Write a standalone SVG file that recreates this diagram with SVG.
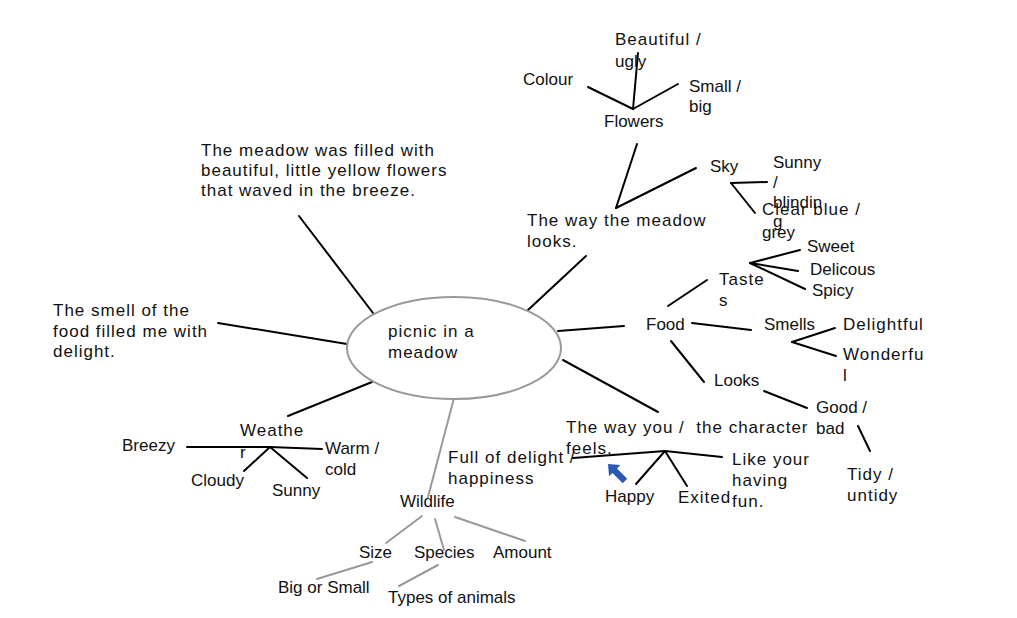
<svg xmlns="http://www.w3.org/2000/svg" width="1017" height="618" viewBox="0 0 1017 618">
<style>
text{font-family:"Liberation Sans",Arial,sans-serif;font-size:17px;fill:#111}
.sp{letter-spacing:1px}
.k{stroke:#000;stroke-width:2;fill:none;stroke-linecap:round}
.g{stroke:#999;stroke-width:2;fill:none;stroke-linecap:round}
</style>
<rect width="1017" height="618" fill="#fff"/>
<g id="connectors">
<line class="k" x1="373" y1="313" x2="299" y2="216"/>
<line class="k" x1="347" y1="344" x2="218" y2="323"/>
<line class="k" x1="372" y1="382" x2="288" y2="416"/>
<line class="g" x1="454" y1="398" x2="428" y2="497"/>
<line class="k" x1="563" y1="360" x2="658" y2="412"/>
<line class="k" x1="558" y1="331" x2="624" y2="326"/>
<line class="k" x1="528" y1="310" x2="586" y2="256"/>
<line class="k" x1="637" y1="144" x2="616" y2="208"/>
<line class="k" x1="696" y1="168" x2="616" y2="208"/>
<line class="k" x1="588" y1="87" x2="633" y2="109"/>
<line class="k" x1="678" y1="84" x2="633" y2="109"/>
<line class="k" x1="638" y1="53" x2="633" y2="109"/>
<line class="k" x1="731" y1="183" x2="767" y2="182"/>
<line class="k" x1="731" y1="183" x2="755" y2="213"/>
<line class="k" x1="668" y1="306" x2="707" y2="280"/>
<line class="k" x1="750" y1="263" x2="800" y2="250"/>
<line class="k" x1="750" y1="263" x2="798" y2="271"/>
<line class="k" x1="750" y1="263" x2="805" y2="289"/>
<line class="k" x1="692" y1="323" x2="751" y2="330"/>
<line class="k" x1="792" y1="342" x2="835" y2="328"/>
<line class="k" x1="792" y1="342" x2="836" y2="356"/>
<line class="k" x1="671" y1="341" x2="704" y2="382"/>
<line class="k" x1="764" y1="391" x2="807" y2="408"/>
<line class="k" x1="858" y1="426" x2="870" y2="451"/>
<polyline class="k" points="573,458 665,451 722,457"/>
<line class="k" x1="665" y1="451" x2="636" y2="484"/>
<line class="k" x1="665" y1="451" x2="687" y2="486"/>
<polyline class="k" points="187,447 270,447 322,449"/>
<line class="k" x1="270" y1="447" x2="244" y2="471"/>
<line class="k" x1="270" y1="447" x2="307" y2="478"/>
<line class="g" x1="422" y1="516" x2="386" y2="543"/>
<line class="g" x1="435" y1="519" x2="444" y2="550"/>
<line class="g" x1="455" y1="517" x2="525" y2="541"/>
<line class="g" x1="372" y1="562" x2="317" y2="579"/>
<line class="g" x1="438" y1="565" x2="399" y2="586"/>
</g>
<g id="center">
<ellipse cx="454" cy="348" rx="107" ry="51" fill="#fff" stroke="#999" stroke-width="2"/>
<text class="sp" x="388" y="337">picnic in a</text>
<text class="sp" x="388" y="358">meadow</text>
</g>
<g id="meadow-sentence">
<text class="sp" x="201" y="156">The meadow was filled with</text>
<text class="sp" x="201" y="176">beautiful, little yellow flowers</text>
<text class="sp" x="201" y="196">that waved in the breeze.</text>
</g>
<g id="smell-sentence">
<text class="sp" x="53" y="316">The smell of the</text>
<text class="sp" x="53" y="337">food filled me with</text>
<text class="sp" x="53" y="357">delight.</text>
</g>
<g id="looks">
<text class="sp" x="527" y="226">The way the meadow</text>
<text class="sp" x="527" y="247">looks.</text>
</g>
<g id="flowers"><text x="604" y="127">Flowers</text></g>
<g id="colour"><text x="523" y="85">Colour</text></g>
<g id="beautiful">
<text class="sp" x="615" y="45">Beautiful /</text>
<text x="615" y="67">ugly</text>
</g>
<g id="small">
<text x="689" y="92">Small /</text>
<text x="689" y="112">big</text>
</g>
<g id="sky"><text x="710" y="172">Sky</text></g>
<g id="sunny-sky">
<text x="773" y="168">Sunny</text>
<text x="773" y="188">/</text>
<text x="773" y="208">blindin</text>
<text x="773" y="227">g</text>
</g>
<g id="clear">
<text class="sp" x="762" y="215">Clear blue /</text>
<text x="762" y="238">grey</text>
</g>
<g id="food"><text x="646" y="330">Food</text></g>
<g id="tastes">
<text class="sp" x="719" y="285">Taste</text>
<text x="719" y="306">s</text>
</g>
<g id="sweet"><text x="807" y="252">Sweet</text></g>
<g id="delicous"><text x="810" y="275">Delicous</text></g>
<g id="spicy"><text x="812" y="296">Spicy</text></g>
<g id="smells"><text x="764" y="330">Smells</text></g>
<g id="delightful"><text class="sp" x="843" y="330">Delightful</text></g>
<g id="wonderful">
<text class="sp" x="843" y="360">Wonderfu</text>
<text x="843" y="381">l</text>
</g>
<g id="looks-food"><text x="714" y="386">Looks</text></g>
<g id="good">
<text x="816" y="413">Good /</text>
<text x="816" y="434">bad</text>
</g>
<g id="tidy">
<text class="sp" x="847" y="480">Tidy /</text>
<text class="sp" x="847" y="501">untidy</text>
</g>
<g id="feels">
<text class="sp" x="566" y="433">The way you /&#160; the character</text>
<text class="sp" x="566" y="454">feels.</text>
</g>
<g id="full">
<text class="sp" x="448" y="463">Full of delight /</text>
<text class="sp" x="448" y="484">happiness</text>
</g>
<g id="happy"><text x="605" y="502">Happy</text></g>
<g id="exited"><text class="sp" x="678" y="503">Exited</text></g>
<g id="like">
<text class="sp" x="732" y="465">Like your</text>
<text class="sp" x="732" y="486">having</text>
<text class="sp" x="732" y="507">fun.</text>
</g>
<g id="arrow">
<polygon points="0,0 8,9.5 3.2,9.5 3.2,24 -3.2,24 -3.2,9.5 -8,9.5" fill="#2a5ab4" transform="translate(608,464) rotate(-45)"/>
</g>
<g id="weather">
<text class="sp" x="240" y="436">Weathe</text>
<text x="240" y="458">r</text>
</g>
<g id="breezy"><text x="122" y="451">Breezy</text></g>
<g id="warm">
<text x="325" y="454">Warm /</text>
<text x="325" y="475">cold</text>
</g>
<g id="cloudy"><text x="191" y="486">Cloudy</text></g>
<g id="sunny"><text x="272" y="496">Sunny</text></g>
<g id="wildlife"><text x="400" y="507">Wildlife</text></g>
<g id="size"><text x="359" y="558">Size</text></g>
<g id="species"><text x="414" y="558">Species</text></g>
<g id="amount"><text x="493" y="558">Amount</text></g>
<g id="big"><text x="278" y="593">Big or Small</text></g>
<g id="types"><text x="388" y="603">Types of animals</text></g>
</svg>
